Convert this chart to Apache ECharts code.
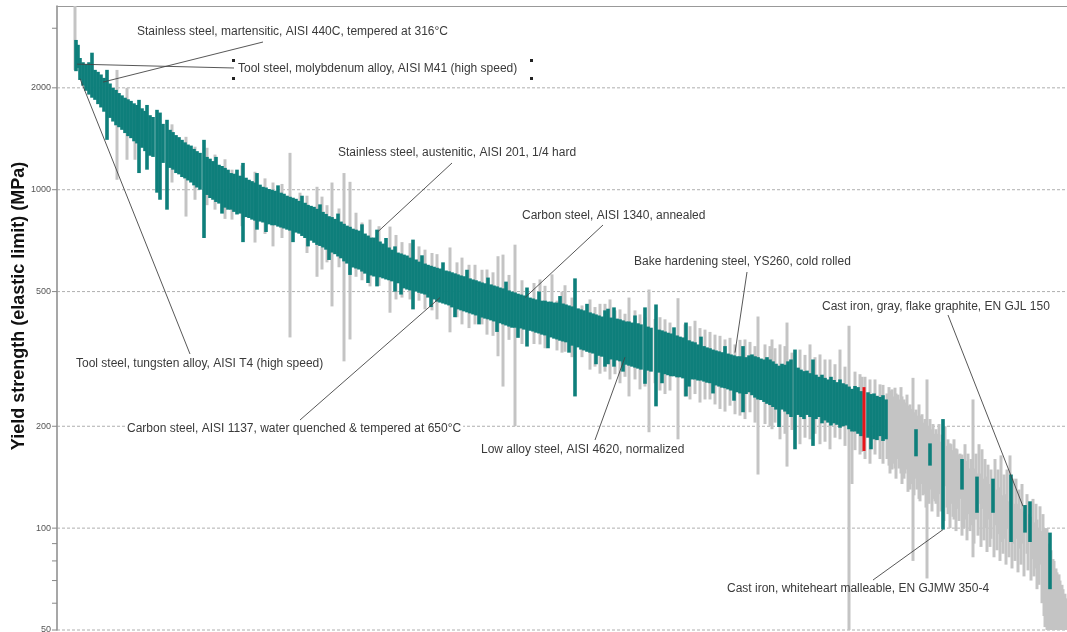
<!DOCTYPE html>
<html>
<head>
<meta charset="utf-8">
<script src="https://cdn.jsdelivr.net/npm/echarts@6/dist/echarts.min.js"></script>
<style>
html,body{margin:0;padding:0;background:#fff;}
#chart{width:1067px;height:632px;}
</style>
</head>
<body>
<div id="chart"></div>
<script>
// ---- DATA ----
// Ranked materials: [rank, minimum yield strength (MPa), maximum yield strength (MPa)]
const steelBars = [
[19,2240,2770],[21,2290,2680],[23,2110,2450],[26,2030,2380],[29,1960,2350],[32,1910,2380],[35,1870,2540],[38,1843,2260],[41,1790,2230],[44,1750,2190],[47,1700,2140],[50,1404,2260],[53,1630,2060],[56,1590,2000],[59,1550,1972],[62,1530,1930],[65,1503,1900],[68,1470,1870],[71,1440,1850],[74,1420,1830],[77,1390,1800],[80,1370,1780],[82,1120,1843],[85,1330,1740],[88,1300,1710],[90,1146,1780],[93,1260,1660],[96,1250,1640],[100,980,1722],[103,934,1690],[106,1200,1565],[110,873,1609],[113,1160,1503],[116,1146,1480],[119,1120,1450],[122,1110,1430],[125,1090,1404],[128,1080,1380],[131,1065,1360],[134,1050,1350],[137,1030,1320],[140,1015,1300],[143,1000,1285],[147,720,1404],[150,965,1250],[153,945,1235],[156,934,1215],[159,920,1250],[162,910,1185],[165,850,1175],[168,885,1160],[171,873,1146],[174,873,1120],[177,860,1115],[180,845,1146],[183,850,1100],[186,700,1200],[189,830,1085],[192,825,1070],[195,816,1060],[198,810,1050],[200,762,1120],[203,805,1035],[206,800,1020],[209,750,1015],[212,790,1005],[215,785,1000],[218,785,993],[221,778,1030],[224,773,980],[227,768,973],[230,762,960],[233,757,953],[236,700,947],[239,747,940],[242,742,927],[245,730,960],[248,720,915],[251,680,902],[254,707,896],[257,697,890],[260,687,878],[263,682,905],[266,675,860],[269,665,848],[272,620,835],[275,652,830],[278,645,820],[281,635,850],[284,627,805],[287,614,793],[290,605,783],[293,560,777],[296,589,767],[299,585,762],[302,581,757],[305,573,790],[308,565,742],[311,530,732],[314,558,722],[317,554,722],[320,518,762],[323,551,703],[326,547,693],[329,543,720],[332,540,675],[335,536,665],[338,500,680],[341,529,652],[344,490,648],[347,511,643],[350,507,639],[353,504,630],[356,443,712],[359,500,622],[362,496,613],[365,493,640],[368,490,605],[371,480,600],[374,450,596],[377,474,592],[380,467,588],[383,464,585],[386,461,610],[389,458,577],[392,455,574],[395,449,570],[398,420,566],[401,443,562],[404,440,558],[407,437,555],[410,434,580],[413,431,547],[416,428,543],[419,425,540],[422,400,536],[425,419,532],[428,416,529],[431,414,550],[434,411,525],[437,408,521],[440,380,518],[443,403,514],[446,400,511],[449,397,535],[452,394,504],[455,391,500],[458,391,497],[461,365,493],[464,389,490],[467,386,487],[470,344,514],[473,383,480],[476,381,477],[479,378,474],[482,376,500],[485,373,470],[488,371,470],[491,340,467],[494,366,467],[497,363,464],[500,361,464],[503,358,485],[506,356,461],[509,354,458],[512,330,455],[515,346,452],[518,245,547],[521,342,446],[524,337,443],[527,335,440],[530,332,460],[533,330,434],[536,328,431],[539,305,428],[542,323,425],[545,321,422],[548,300,440],[551,305,445],[554,315,419],[557,300,449],[560,313,416],[563,311,414],[566,290,411],[569,304,408],[572,302,408],[575,300,405],[578,298,425],[581,296,403],[584,294,400],[588,267,449],[591,292,394],[594,290,391],[599,229,458],[602,288,386],[605,268,384],[608,285,381],[611,283,378],[614,281,376],[617,281,392],[620,279,371],[623,279,368],[626,277,366],[629,245,405],[632,262,359],[635,275,356],[638,275,354],[641,273,349],[644,273,368],[647,271,345],[650,269,342],[653,268,340],[656,250,337],[659,264,335],[662,262,333],[665,260,331],[668,259,345],[671,257,328],[674,255,326],[677,238,324],[680,252,322],[683,250,322],[686,220,345],[689,249,320],[692,252,324],[695,247,326],[698,243,322],[701,240,320],[704,239,317],[707,236,315],[710,233,320],[713,231,315],[716,228,311],[719,224,306],[722,199,302],[725,224,306],[728,221,304],[731,217,311],[734,213,315],[738,171,337],[741,216,298],[744,213,294],[747,210,291],[750,216,292],[753,213,287],[756,175,315],[759,210,284],[762,213,280],[765,204,284],[768,208,278],[771,205,275],[774,201,280],[777,204,274],[780,202,270],[783,198,275],[786,200,268],[789,201,266],[792,196,262],[795,193,258],[798,193,263],[801,190,261],[804,187,254],[811,185,252],[814,171,249],[817,183,250],[820,182,246],[823,187,244],[826,181,247],[829,183,240],
[859,163,196],[873,153,178],[886,99,210],[905,130,160],[920,111,142],[936,111,140],[954,91,144],[968,97,117],[973,91,120],[993,66,97]
];
const otherBars = [
[18,2259,3600],[60,1070,2259],[70,1226,2000],[78,1226,1780],[115,1050,1560],[129,833,1433],[138,934,1340],[150,900,1330],[158,873,1270],[168,820,1230],[175,816,1146],[185,780,1180],[198,698,1130],[208,740,1080],[216,680,1050],[225,720,1040],[233,366,1285],[243,740,980],[250,650,960],[260,553,1020],[265,581,954],[270,610,900],[275,452,1050],[282,590,880],[287,311,1120],[293,361,1055],[299,553,855],[305,540,800],[313,518,816],[322,520,780],[333,433,778],[339,474,735],[345,480,700],[353,474,695],[362,470,680],[368,443,665],[375,440,650],[380,414,645],[393,379,675],[400,420,610],[405,400,630],[412,390,600],[418,400,600],[425,400,580],[430,373,581],[436,370,570],[441,322,636],[446,262,643],[452,360,560],[458,200,688],[465,350,540],[477,350,530],[483,349,543],[488,340,520],[495,386,562],[500,335,470],[505,330,500],[508,332,522],[515,320,480],[525,320,455],[533,294,474],[538,300,450],[543,286,460],[548,290,460],[553,275,474],[558,285,440],[563,268,443],[568,280,430],[572,245,480],[578,275,440],[583,257,428],[588,262,420],[592,192,507],[598,268,415],[603,255,420],[608,249,414],[613,255,405],[621,183,478],[628,245,400],[633,240,395],[638,249,410],[643,235,390],[648,240,386],[653,240,380],[658,232,373],[663,225,370],[668,221,361],[673,230,365],[678,217,349],[683,215,360],[688,210,361],[693,220,355],[698,205,345],[701,144,422],[708,203,349],[713,200,345],[715,196,361],[718,205,340],[723,183,349],[728,190,345],[730,152,405],[735,195,330],[743,177,337],[748,185,325],[753,183,349],[758,190,320],[763,177,326],[768,180,315],[773,171,315],[778,185,305],[783,183,337],[788,175,300],[792,50,396],[795,135,240],[798,170,290],[803,165,285],[805,168,280],[808,160,280],[813,155,275],[818,165,275],[823,160,266],[826,155,265],
[830,160,250],[832,153,261],[833,145,255],[835,149,257],[836,155,245],[838,150,260],[839,140,250],[841,160,248],[842,150,240],[844,145,261],[845,135,245],[847,140,240],[848,145,235],[850,149,248],[851,128,230],[853,130,232],[854,135,225],[856,80,278],[857,125,220],[859,140,224],[860,130,215],[862,122,232],[863,120,215],[865,135,217],[866,125,205],[868,126,210],[869,115,210],[870,71,275],[872,118,200],[873,130,210],[875,112,196],[876,122,203],[878,120,190],[879,118,196],[881,108,190],[882,126,203],[884,112,180],[885,114,189],[887,105,185],[888,133,200],[890,115,175],[891,110,183],[893,100,178],[894,118,177],[896,108,170],[897,106,183],[899,98,172],[900,114,171],[902,105,165],[903,122,166],[905,95,165],[907,100,160],[908,106,177],[910,92,158],[911,110,166],[913,98,150],[914,102,160],[916,82,240],[917,90,150],[919,106,166],[921,95,145],[922,118,177],[924,88,145],[925,114,171],[927,92,140],[928,100,160],[930,85,142],[931,106,154],[933,88,135],[934,93,149],[937,82,135],[938,102,160],[940,86,130],[941,96,149],[943,80,132],[944,91,164],[946,84,125],[947,93,144],[949,78,126],[950,100,149],[952,82,120],[953,97,164],[955,76,122],[956,90,140],[958,80,118],[959,93,140],[961,74,118],[962,87,130],[964,78,114],[965,90,135],[967,72,112],[970,84,126],[971,75,110],[974,70,108],[976,81,122],[977,72,104],[979,76,118],[980,66,106],[982,68,100],[983,78,116],[985,60,98],[986,71,110],[987,55,95],[988,51,100],[990,50,100],[992,50,90],[994,50,86],[996,50,81],[997,50,80],[999,50,76],[1000,50,74],[1002,50,73],[1003,50,70],[1005,50,68],[1006,50,66],[1008,50,64],[1009,50,62]
];
const highlightBar = [[807,169,261]];
const yTickValues = [50,100,200,500,1000,2000];
const yMinorTicks = [60,70,80,90,3000];
const annotationTexts = [
  'Stainless steel, martensitic, AISI 440C, tempered at 316°C',
  'Tool steel, molybdenum alloy, AISI M41 (high speed)',
  'Stainless steel, austenitic, AISI 201, 1/4 hard',
  'Carbon steel, AISI 1340, annealed',
  'Bake hardening steel, YS260, cold rolled',
  'Cast iron, gray, flake graphite, EN GJL 150',
  'Tool steel, tungsten alloy, AISI T4 (high speed)',
  'Carbon steel, AISI 1137, water quenched & tempered at 650°C',
  'Low alloy steel, AISI 4620, normalized',
  'Cast iron, whiteheart malleable, EN GJMW 350-4'
];
// leader targets: [rank, yield strength]
const annotationTargets = [
  [46,2080],[20,2350],[321,752],[468,480],[678,330],[966,116],[23,2130],[383,480],[568,320],[886,99]
];

// ---- LAYOUT (pixels) ----
const labelLayout = [
  {x:137, y:32, lx:263, ly:42},
  {x:238, y:69, lx:234, ly:68},
  {x:338, y:153, lx:452, ly:163},
  {x:522, y:216, lx:603, ly:225},
  {x:634, y:262, lx:747, ly:272},
  {x:822, y:307, lx:948, ly:315},
  {x:76, y:364, lx:190, ly:354},
  {x:125, y:429, lx:300, ly:420, bg:true},
  {x:481, y:450, lx:595, ly:440},
  {x:727, y:589, lx:873, ly:580}
];

const FONT = '"Liberation Sans", Arial, sans-serif';
const chart = echarts.init(document.getElementById('chart'), null, {renderer:'canvas'});

function barRenderer(color, width) {
  return function (params, api) {
    const x = api.value(0), lo = api.value(1), hi = api.value(2);
    const top = api.coord([x, hi]);
    const bot = api.coord([x, lo]);
    const cs = params.coordSys;
    const r = echarts.graphic.clipRectByRect(
      {x: top[0] - width / 2, y: top[1], width: width, height: bot[1] - top[1]},
      {x: cs.x, y: cs.y, width: cs.width, height: cs.height});
    if (!r) return null;
    return {type:'rect', shape:r, style:{fill:color}};
  };
}

function tickRenderer(major) {
  return function (params, api) {
    const v = api.value(1);
    const p = api.coord([0, v]);
    const cs = params.coordSys;
    const children = [{
      type:'line', shape:{x1:p[0]-5, y1:p[1], x2:p[0], y2:p[1]},
      style:{stroke:'#888', lineWidth:1}
    }];
    if (major) {
      children.push({
        type:'line', shape:{x1:p[0], y1:p[1], x2:cs.x + cs.width, y2:p[1]},
        style:{stroke:'#9a9a9a', lineWidth:0.8, lineDash:[3,2]}
      });
      children.push({
        type:'text', style:{text:String(v), x:p[0]-6, y:p[1], align:'right', verticalAlign:'middle',
          font:'9px ' + FONT, fill:'#555'}
      });
    }
    return {type:'group', children:children};
  };
}

function annotationRenderer(params, api) {
  const i = params.dataIndex;
  const t = api.coord([api.value(0), api.value(1)]);
  const L = labelLayout[i];
  const txt = {
    type:'text', z2:10,
    style:{text:annotationTexts[i], x:L.x, y:L.y, align:'left', verticalAlign:'middle',
      font:'12px ' + FONT, fill:'#3a3a3a'}
  };
  if (L.bg) { txt.style.backgroundColor = '#fff'; txt.style.padding = [1,2]; }
  return {type:'group', children:[
    {type:'line', shape:{x1:L.lx, y1:L.ly, x2:t[0], y2:t[1]}, style:{stroke:'#444', lineWidth:0.9}},
    txt
  ]};
}

const option = {
  animation:false,
  backgroundColor:'#fff',
  grid:{left:57, right:0, top:6, bottom:2, containLabel:false},
  xAxis:{type:'value', min:0, max:1010, position:'top',
    axisLine:{show:true, lineStyle:{color:'#999', width:1}},
    axisTick:{show:false}, axisLabel:{show:false}, splitLine:{show:false}},
  yAxis:{type:'log', logBase:10, min:50, max:3490,
    axisLine:{show:true, lineStyle:{color:'#8a8a8a', width:1.5}},
    axisTick:{show:false}, axisLabel:{show:false}, splitLine:{show:false}, minorTick:{show:false}},
  graphic:[
    {type:'text', x:19, y:306, rotation:Math.PI/2,
      style:{text:'Yield strength (elastic limit) (MPa)', font:'bold 18px ' + FONT, fill:'#111',
        align:'center', verticalAlign:'middle'}},
    {type:'rect', shape:{x:232, y:59, width:3, height:3}, style:{fill:'#222'}},
    {type:'rect', shape:{x:232, y:77, width:3, height:3}, style:{fill:'#222'}},
    {type:'rect', shape:{x:530, y:59, width:3, height:3}, style:{fill:'#222'}},
    {type:'rect', shape:{x:530, y:77, width:3, height:3}, style:{fill:'#222'}}
  ],
  series:[
    {type:'custom', name:'grid', z:1, silent:true, renderItem:tickRenderer(true),
      data:yTickValues.map(v => [0, v]), encode:{x:0, y:1}},
    {type:'custom', name:'minor', z:1, silent:true, renderItem:tickRenderer(false),
      data:yMinorTicks.map(v => [0, v]), encode:{x:0, y:1}},
    {type:'custom', name:'Other materials', z:2, renderItem:barRenderer('#c4c4c4', 3),
      data:otherBars, encode:{x:0, y:[1,2]}},
    {type:'custom', name:'Steels', z:3, renderItem:barRenderer('#0e7f7b', 3.6),
      data:steelBars, encode:{x:0, y:[1,2]}},
    {type:'custom', name:'Selected', z:4, renderItem:barRenderer('#e8141a', 3),
      data:highlightBar, encode:{x:0, y:[1,2]}},
    {type:'custom', name:'labels', z:5, silent:true, renderItem:annotationRenderer,
      data:annotationTargets, encode:{x:0, y:1}}
  ]
};
chart.setOption(option);
</script>
</body>
</html>
